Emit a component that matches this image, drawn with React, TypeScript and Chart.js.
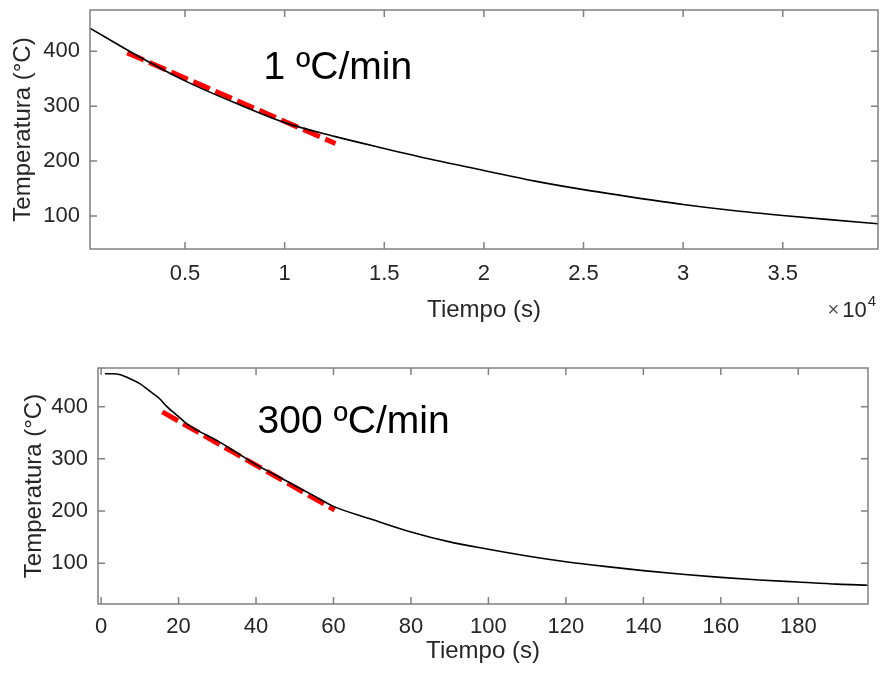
import React, { useEffect, useRef } from "react";
import { Chart, registerables } from "chart.js";

Chart.register(...registerables);

const FONT = "'Liberation Sans', Arial, Helvetica, sans-serif";
const TEXT_COLOR = "#262626";
const AXIS_COLOR = "#808080";

// ---------- Top panel: 1 ºC/min ----------
const slowTime = [230, 2500, 5000, 7500, 10000, 12500, 15000, 17500, 20000, 22500, 25000, 27500, 30000, 32500, 35000, 37500, 39780];
const slowTemp = [442, 394, 346, 306, 270, 245, 223, 202, 183, 164, 148, 134, 121, 110, 101, 93, 86];
const slowFitTime = [2100, 12550];
const slowFitTemp = [397, 232];
const slowXTicks = [5000, 10000, 15000, 20000, 25000, 30000, 35000];

// ---------- Bottom panel: 300 ºC/min ----------
const fastTime = [1, 3, 5, 7, 10, 12.5, 15, 17, 20, 22, 25, 30, 35, 40, 45, 50, 55, 60, 70, 80, 90, 100, 110, 120, 130, 140, 150, 160, 170, 180, 190, 198];
const fastTemp = [463, 463, 461, 455, 444, 430, 416, 400, 381, 368, 354, 335, 312, 289, 269, 249, 229, 209, 184, 160, 141, 127, 114, 103, 94, 86, 79, 73, 68, 64, 60, 58];
const fastFitTime = [15.8, 60.3];
const fastFitTemp = [390, 202];
const fastXTicks = [0, 20, 40, 60, 80, 100, 120, 140, 160, 180];

const yTicks = [100, 200, 300, 400];
const xTitle = "Tiempo (s)";
const yTitle = "Temperatura (°C)";

const framePlugin = {
  id: "frame",
  afterDatasetsDraw(chart: any, _args: any, opts: any) {
    const { ctx, chartArea: a, scales } = chart;
    const xs = scales.x;
    const ys = scales.y;
    ctx.save();
    ctx.strokeStyle = AXIS_COLOR;
    ctx.lineWidth = 1.5;
    ctx.strokeRect(a.left, a.top, a.right - a.left, a.bottom - a.top);
    const L = 7;
    ctx.beginPath();
    xs.ticks.forEach((t: any) => {
      const px = xs.getPixelForValue(t.value);
      ctx.moveTo(px, a.bottom);
      ctx.lineTo(px, a.bottom - L);
      ctx.moveTo(px, a.top);
      ctx.lineTo(px, a.top + L);
    });
    ys.ticks.forEach((t: any) => {
      const py = ys.getPixelForValue(t.value);
      ctx.moveTo(a.left, py);
      ctx.lineTo(a.left + L, py);
      ctx.moveTo(a.right, py);
      ctx.lineTo(a.right - L, py);
    });
    ctx.stroke();
    ctx.fillStyle = "#000";
    ctx.font = `39px ${FONT}`;
    ctx.textAlign = "left";
    ctx.textBaseline = "alphabetic";
    ctx.fillText(opts.label, xs.getPixelForValue(opts.labelX), ys.getPixelForValue(opts.labelY));
    if (opts.exponent) {
      ctx.fillStyle = TEXT_COLOR;
      const base = a.bottom + 68;
      let xr = a.right - 2;
      ctx.textAlign = "right";
      ctx.font = `15px ${FONT}`;
      ctx.fillText("4", xr, base - 11);
      xr -= ctx.measureText("4").width + 1;
      ctx.font = `22px ${FONT}`;
      ctx.fillText("10", xr, base);
      xr -= ctx.measureText("10").width + 3;
      ctx.font = `20px ${FONT}`;
      ctx.fillStyle = "#555";
      ctx.fillText("×", xr, base - 1);
    }
    ctx.restore();
  },
};

type PanelCfg = {
  time: number[];
  temp: number[];
  fitTime: number[];
  fitTemp: number[];
  xMin: number;
  xMax: number;
  yMin: number;
  yMax: number;
  xTicks: number[];
  xFmt: (v: number) => string;
  padding: { top: number; right: number; left: number; bottom: number };
  yWidth: number;
  xHeight: number;
  xTickPad: number;
  yTickPad: number;
  xTitlePadBottom: number;
  yTitlePadTop: number;
  label: string;
  labelX: number;
  labelY: number;
  exponent: boolean;
};

function Panel({ cfg, top }: { cfg: PanelCfg; top: number }) {
  const ref = useRef<HTMLCanvasElement | null>(null);
  useEffect(() => {
    if (!ref.current) return;
    const chart = new Chart(ref.current, {
      type: "line",
      data: {
        datasets: [
          {
            data: cfg.time.map((t, i) => ({ x: t, y: cfg.temp[i] })),
            borderColor: "#000",
            borderWidth: 1.6,
            pointRadius: 0,
            cubicInterpolationMode: "monotone",
            fill: false,
          },
          {
            data: cfg.fitTime.map((t, i) => ({ x: t, y: cfg.fitTemp[i] })),
            borderColor: "#ff0000",
            borderWidth: 5,
            borderDash: [18, 6],
            pointRadius: 0,
            fill: false,
          },
        ],
      },
      options: {
        responsive: false,
        animation: false,
        devicePixelRatio: 1,
        layout: { padding: cfg.padding },
        plugins: {
          legend: { display: false },
          tooltip: { enabled: false },
          frame: {
            label: cfg.label,
            labelX: cfg.labelX,
            labelY: cfg.labelY,
            exponent: cfg.exponent,
          },
        } as any,
        scales: {
          x: {
            type: "linear",
            min: cfg.xMin,
            max: cfg.xMax,
            afterBuildTicks: (s: any) => {
              s.ticks = cfg.xTicks.map((v) => ({ value: v }));
            },
            afterFit: (s: any) => {
              s.height = cfg.xHeight;
              s.paddingLeft = 0;
              s.paddingRight = 0;
              s.paddingTop = 0;
              s.paddingBottom = 0;
            },
            ticks: {
              callback: (v: any) => cfg.xFmt(Number(v)),
              font: { family: FONT, size: 22 },
              color: TEXT_COLOR,
              padding: cfg.xTickPad,
              maxRotation: 0,
              autoSkip: false,
            },
            grid: { display: false, drawTicks: false },
            border: { display: false },
            title: {
              display: true,
              text: xTitle,
              font: { family: FONT, size: 24 },
              color: TEXT_COLOR,
              padding: { top: 0, bottom: cfg.xTitlePadBottom },
            },
          },
          y: {
            type: "linear",
            min: cfg.yMin,
            max: cfg.yMax,
            afterBuildTicks: (s: any) => {
              s.ticks = yTicks.map((v) => ({ value: v }));
            },
            afterFit: (s: any) => {
              s.width = cfg.yWidth;
              s.paddingLeft = 0;
              s.paddingRight = 0;
              s.paddingTop = 0;
              s.paddingBottom = 0;
            },
            ticks: {
              font: { family: FONT, size: 22 },
              color: TEXT_COLOR,
              padding: cfg.yTickPad,
            },
            grid: { display: false, drawTicks: false },
            border: { display: false },
            title: {
              display: true,
              text: yTitle,
              font: { family: FONT, size: 24 },
              color: TEXT_COLOR,
              padding: { top: cfg.yTitlePadTop, bottom: 0 },
            },
          },
        },
      } as any,
      plugins: [framePlugin as any],
    });
    return () => chart.destroy();
  }, [cfg]);
  return (
    <div style={{ position: "absolute", left: 0, top, width: 881, height: 338 }}>
      <canvas ref={ref} width={881} height={338} style={{ width: 881, height: 338, display: "block" }} />
    </div>
  );
}

const topCfg: PanelCfg = {
  time: slowTime,
  temp: slowTemp,
  fitTime: slowFitTime,
  fitTemp: slowFitTemp,
  xMin: 230,
  xMax: 39780,
  yMin: 40,
  yMax: 475,
  xTicks: slowXTicks,
  xFmt: (v) => String(v / 10000),
  padding: { top: 10, right: 3, left: 0, bottom: 0 },
  yWidth: 90,
  xHeight: 89,
  xTickPad: 12,
  yTickPad: 10,
  xTitlePadBottom: 13.6,
  yTitlePadTop: 8.6,
  label: "1 ºC/min",
  labelX: 8940,
  labelY: 350,
  exponent: true,
};

const bottomCfg: PanelCfg = {
  time: fastTime,
  temp: fastTemp,
  fitTime: fastFitTime,
  fitTemp: fastFitTemp,
  xMin: -0.8,
  xMax: 198,
  yMin: 22,
  yMax: 474,
  xTicks: fastXTicks,
  xFmt: (v) => String(v),
  padding: { top: 30, right: 13, left: 0, bottom: 0 },
  yWidth: 98,
  xHeight: 72,
  xTickPad: 10,
  yTickPad: 10,
  xTitlePadBottom: 10.6,
  yTitlePadTop: 19.6,
  label: "300 ºC/min",
  labelX: 40.4,
  labelY: 349,
  exponent: false,
};

export default function App() {
  return (
    <div style={{ position: "absolute", left: 0, top: 0, width: 881, height: 676, background: "#fff" }}>
      <Panel cfg={topCfg} top={0} />
      <Panel cfg={bottomCfg} top={338} />
    </div>
  );
}
